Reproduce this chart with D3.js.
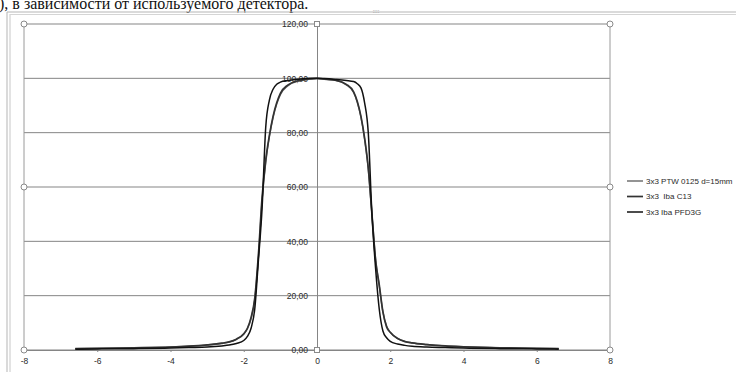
<!DOCTYPE html>
<html lang="ru">
<head>
  <meta charset="utf-8">
  <title>Профиль поля 3x3</title>
  <script src="https://cdnjs.cloudflare.com/ajax/libs/d3/7.8.5/d3.min.js"></script>
  <style type="text/css">
  body { margin: 0; background: #fff; overflow: hidden; }
  #chart { display: block; }
  .tick text { font-family: "Liberation Sans", Arial, sans-serif; font-size: 8.5px; fill: #2a2a2a; }
  .legend text { font-family: "Liberation Sans", Arial, sans-serif; font-size: 8px; fill: #2a2a2a; }
  </style>
</head>
<body>
  <svg id="chart"></svg>
  <script type="text/javascript">
  // positions along the profile (cm)
  var pos = [-6.6, -6, -5, -4, -3.5, -3, -2.6, -2.4, -2.2, -2.0, -1.9, -1.8, -1.7, -1.6, -1.5, -1.4, -1.3, -1.2, -1.1, -1.0, -0.8, -0.5, -0.2, 0,
             0.2, 0.5, 0.8, 1.0, 1.1, 1.2, 1.3, 1.4, 1.5, 1.6, 1.7, 1.8, 1.9, 2.0, 2.2, 2.4, 2.6, 3, 3.5, 4, 5, 6, 6.6];

  var ptw0125 = [0.5, 0.6, 0.8, 1.1, 1.4, 1.8, 2.4, 2.9, 3.9, 5.8, 7.8, 11.5, 18.5, 34, 55, 69, 78.5, 85.5, 90.5, 94, 97.2, 99.0, 99.7, 99.9,
                 99.6, 99.3, 97.6, 94.8, 91.2, 85.7, 77.5, 66.5, 50, 33.5, 23.5, 14, 8.8, 6.5, 4.3, 3.2, 2.6, 2.0, 1.5, 1.2, 0.8, 0.6, 0.5];
  var ibaC13 = [0.5, 0.6, 0.8, 1.1, 1.4, 1.9, 2.5, 3.0, 4.0, 6.0, 8.0, 12, 19, 35, 56, 70, 79, 86, 91, 94.5, 97.5, 99.2, 99.8, 100,
                99.8, 99.3, 97.8, 95, 91.5, 86, 78, 67, 50, 33, 24, 14, 8.5, 6.5, 4.2, 3.1, 2.6, 2.0, 1.5, 1.2, 0.8, 0.6, 0.5];
  var ibaPFD3G = [0.3, 0.4, 0.5, 0.7, 0.9, 1.1, 1.5, 1.8, 2.4, 3.5, 5, 8, 15, 33, 52, 82, 92, 96, 97.8, 98.6, 99.2, 99.7, 100, 100,
                  99.9, 99.6, 99.2, 98.8, 98, 96.5, 91, 80, 50, 30, 15, 7, 4.5, 3.2, 2.2, 1.7, 1.4, 1.1, 0.9, 0.7, 0.5, 0.4, 0.3];

  var seriesNames = ["3x3 PTW 0125 d=15mm", "3x3  Iba C13", "3x3 Iba PFD3G"];
  var seriesColors = ["#666666", "#333333", "#111111"];
  var seriesWidths = [1.4, 1.7, 1.5];

  var xTicks = [-8, -6, -4, -2, 0, 2, 4, 6, 8];
  var yTicks = [0, 20, 40, 60, 80, 100, 120];

  var w = 736;
  var h = 372;

  var svg = d3.select("#chart")
    .attr("width", w)
    .attr("height", h);

  var x = d3.scaleLinear().domain([-8, 8]).range([24, 610]);
  var y = d3.scaleLinear().domain([0, 120]).range([350, 24]);

  // text line of the document above the chart (cut by the page edge, as in the scan)
  svg.append("text")
    .attr("x", -1)
    .attr("y", 9)
    .style("font-family", "Liberation Serif, Times New Roman, serif")
    .style("font-size", "16px")
    .style("fill", "#111")
    .text("), в зависимости от используемого детектора.");

  // chart frame (selected in the editor)
  svg.append("line").attr("x1", 7).attr("x2", 7).attr("y1", 12).attr("y2", h).style("stroke", "#b5b5b5");
  svg.append("line").attr("x1", 10).attr("x2", 10).attr("y1", 14).attr("y2", h).style("stroke", "#c8c8c8");
  svg.append("line").attr("x1", 7).attr("x2", w).attr("y1", 12).attr("y2", 12).style("stroke", "#b5b5b5");
  svg.append("line").attr("x1", 10).attr("x2", w).attr("y1", 14.5).attr("y2", 14.5).style("stroke", "#d5d5d5");
  svg.append("text").attr("x", 376).attr("y", 13).attr("text-anchor", "middle")
    .style("font-size", "6px").style("fill", "#999").text("::::");

  // horizontal gridlines
  svg.append("g")
    .selectAll("line")
    .data(yTicks)
    .enter()
    .append("line")
    .attr("x1", x(-8))
    .attr("x2", x(8))
    .attr("y1", function(d) { return y(d); })
    .attr("y2", function(d) { return y(d); })
    .style("stroke", "#858585")
    .style("stroke-width", 1);

  // plot area sides
  svg.append("line").attr("x1", x(-8)).attr("x2", x(-8)).attr("y1", y(120)).attr("y2", y(0)).style("stroke", "#9a9a9a");
  svg.append("line").attr("x1", x(8)).attr("x2", x(8)).attr("y1", y(120)).attr("y2", y(0)).style("stroke", "#9a9a9a");

  // x axis
  var xAxis = svg.append("g")
    .attr("transform", "translate(0," + y(0) + ")")
    .call(d3.axisBottom(x).tickValues(xTicks).tickSize(2).tickPadding(6)
      .tickFormat(function(d) { return String(d); }));
  xAxis.select(".domain").style("stroke", "#858585");
  xAxis.selectAll(".tick line").style("stroke", "#858585");

  // y axis at x = 0
  var yAxis = svg.append("g")
    .attr("transform", "translate(" + x(0) + ",0)")
    .call(d3.axisLeft(y).tickValues(yTicks).tickSize(0).tickPadding(9)
      .tickFormat(function(d) { return d.toFixed(2).replace(".", ","); }));
  yAxis.select(".domain").style("stroke", "#858585");

  // profiles
  var allSeries = [ptw0125, ibaC13, ibaPFD3G];
  var line = d3.line()
    .x(function(d, i) { return x(pos[i]); })
    .y(function(d) { return y(d); })
    .curve(d3.curveMonotoneX);

  svg.append("g")
    .selectAll("path")
    .data(allSeries)
    .enter()
    .append("path")
    .attr("d", line)
    .style("fill", "none")
    .style("stroke", function(d, i) { return seriesColors[i]; })
    .style("stroke-width", function(d, i) { return seriesWidths[i]; });

  // selection handles on the plot area
  var handles = [[-8, 120], [8, 120], [-8, 60], [8, 60], [-8, 0], [8, 0]];
  svg.append("g")
    .selectAll("circle")
    .data(handles)
    .enter()
    .append("circle")
    .attr("cx", function(d) { return x(d[0]); })
    .attr("cy", function(d) { return y(d[1]); })
    .attr("r", 3)
    .style("fill", "#fff")
    .style("stroke", "#8a8a8a");
  svg.append("g")
    .selectAll("rect")
    .data([120, 0])
    .enter()
    .append("rect")
    .attr("x", x(0) - 2.5)
    .attr("y", function(d) { return y(d) - 2.5; })
    .attr("width", 5)
    .attr("height", 5)
    .style("fill", "#fff")
    .style("stroke", "#8a8a8a");

  // legend
  var legend = svg.append("g")
    .attr("class", "legend")
    .attr("transform", "translate(627,181)");
  var item = legend.selectAll("g")
    .data(seriesNames)
    .enter()
    .append("g")
    .attr("transform", function(d, i) { return "translate(0," + (i * 15.5) + ")"; });
  item.append("line")
    .attr("x1", 0)
    .attr("x2", 16)
    .style("stroke", function(d, i) { return seriesColors[i]; })
    .style("stroke-width", function(d, i) { return seriesWidths[i]; });
  item.append("text")
    .attr("x", 19)
    .attr("dy", "0.35em")
    .style("white-space", "pre")
    .text(function(d) { return d; });
  </script>
</body>
</html>
